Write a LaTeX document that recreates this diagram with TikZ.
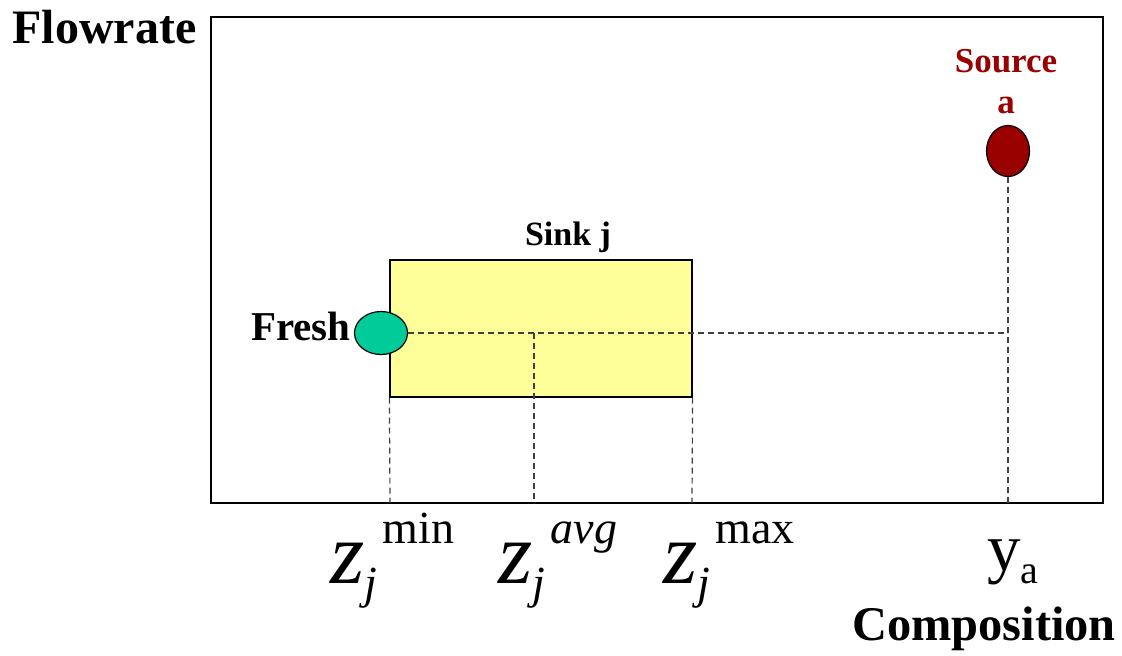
\documentclass[tikz,border=0pt]{standalone}
\usepackage{fontspec}
\setmainfont{Liberation Serif}
\usetikzlibrary{shapes.geometric}

\definecolor{sinkyellow}{HTML}{FFFF99}
\definecolor{freshgreen}{HTML}{00CC99}
\definecolor{sourcered}{HTML}{990000}

\newcommand{\zlab}[1]{\textit{z}\rlap{\fontsize{23}{23}\selectfont\raisebox{-7.5pt}{\itshape j}}\hspace{9pt}\raisebox{20pt}{\fontsize{23}{23}\selectfont #1}}

\tikzset{
    guide/.style={dash pattern=on 3pt off 2pt, draw=black!75, line width=0.6pt},
    axlabel/.style={font=\fontsize{44}{44}\selectfont, inner sep=0pt, anchor=base west}
}

\begin{document}
\begin{tikzpicture}[x=0.5pt, y=-0.5pt, >=stealth]
    \useasboundingbox (0,0) rectangle (1122,655);
    \draw[line width=0.9pt] (211,17) rectangle (1103,503);
    \coordinate (zmin) at (390,503);
    \coordinate (zavg) at (534,503);
    \coordinate (zmax) at (692,503);
    \coordinate (ya) at (1008,503);

    \node[draw, fill=sinkyellow, line width=0.6pt, inner sep=0pt, minimum width=151pt, minimum height=68.5pt] (sink) at (541,328.5) {};
    \node[draw, ellipse, fill=freshgreen, line width=0.6pt, inner sep=0pt, minimum width=26.5pt, minimum height=21.5pt] (fresh) at (381,333) {};
    \node[draw, ellipse, fill=sourcered, line width=0.6pt, inner sep=0pt, minimum width=21.5pt, minimum height=25.5pt] (source) at (1008,151) {};

    \draw[guide] (fresh.east) -- (fresh.east -| ya);
    \draw[guide] (source.south) -- (ya);
    \draw[guide] (sink.south west) -- (zmin);
    \draw[guide] (sink.south east) -- (zmax);
    \draw[guide] (zavg |- fresh) -- (zavg);

    \node[font=\fontsize{17}{17}\selectfont\bfseries, anchor=base, inner sep=0pt] (sinklabel) at (568,245) {Sink j};
    \node[font=\fontsize{20.5}{20.5}\selectfont\bfseries, anchor=base east, inner sep=0pt] (freshlabel) at (351,340) {Fresh};
    \node[font=\fontsize{17.5}{20.5}\selectfont\bfseries, text=sourcered, align=center, anchor=base, inner sep=0pt] (sourcelabel) at (1006,113) {Source\\a};

    \node[font=\fontsize{24}{24}\selectfont\bfseries, anchor=base west, inner sep=0pt] (ylabel) at (12,43) {Flowrate};
    \node[font=\fontsize{24.2}{24.2}\selectfont\bfseries, anchor=base, inner sep=0pt] (xlabel) at (984,640) {Composition};

    \node[axlabel] (zminlabel) at (330,583) {\zlab{min}};
    \node[axlabel] (zavglabel) at (498,583) {\zlab{\itshape avg}};
    \node[axlabel] (zmaxlabel) at (663,583) {\zlab{max}};
    \node[font=\fontsize{33.5}{33.5}\selectfont, inner sep=0pt, anchor=base west] (yalabel) at (987,570) {y\raisebox{-6.5pt}{\fontsize{20}{20}\selectfont a}};
\end{tikzpicture}
\end{document}
